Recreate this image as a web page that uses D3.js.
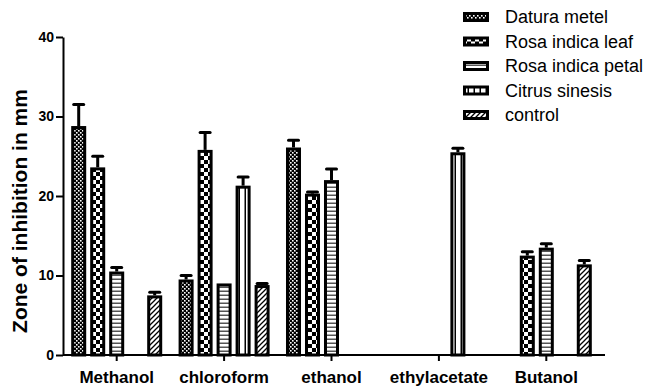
<!DOCTYPE html>
<html>
<head>
<meta charset="utf-8">
<script src="https://cdn.jsdelivr.net/npm/d3@7"></script>
<style>
    body { margin: 0; background: #fff; }
    svg { display: block; font-family: Arial, "Liberation Sans", sans-serif; }
</style>
</head>
<body>
<div id="chart"></div>
<script>

// chart values
var categories = ['Methanol', 'chloroform', 'ethanol', 'ethylacetate', 'Butanol'];
var series = ['Datura metel', 'Rosa indica leaf', 'Rosa indica petal', 'Citrus sinesis', 'control'];

// one row per category, one value per series (null = no bar)
var means = [
    [28.8, 23.6, 10.5, null, 7.5],
    [9.5, 25.8, 9.0, 21.3, 8.8],
    [26.1, 20.3, 22.0, null, null],
    [null, null, null, 25.5, null],
    [null, 12.5, 13.5, null, 11.4]
];
var errors = [
    [2.7, 1.4, 0.5, null, 0.4],
    [0.5, 2.2, 0, 1.1, 0.2],
    [0.9, 0.2, 1.4, null, null],
    [null, null, null, 0.5, null],
    [null, 0.5, 0.5, null, 0.5]
];
var yTicks = [0, 10, 20, 30, 40];

var width = 649;
var height = 387;
var margin = { left: 63, top: 37, right: 49, bottom: 32 };
var axisEnd = 605;

var svg = d3.select('#chart')
    .append('svg')
    .attr('width', width)
    .attr('height', height);

var defs = svg.append('defs');

function pattern(id, w, h) {
    return defs.append('pattern')
        .attr('id', id)
        .attr('patternUnits', 'userSpaceOnUse')
        .attr('width', w)
        .attr('height', h || w);
}

// Datura metel: fine dotted checker
var p0 = pattern('pat0', 4);
p0.append('rect').attr('width', 4).attr('height', 4).attr('fill', '#000');
p0.append('rect').attr('width', 1.6).attr('height', 1.6).attr('fill', '#fff');
p0.append('rect').attr('x', 2).attr('y', 2).attr('width', 1.6).attr('height', 1.6).attr('fill', '#fff');

// Rosa indica leaf: coarse checker
var p1 = pattern('pat1', 8);
p1.append('rect').attr('width', 8).attr('height', 8).attr('fill', '#000');
p1.append('rect').attr('width', 4).attr('height', 4).attr('fill', '#fff');
p1.append('rect').attr('x', 4).attr('y', 4).attr('width', 4).attr('height', 4).attr('fill', '#fff');

// Rosa indica petal: horizontal lines
var p2 = pattern('pat2', 4);
p2.append('rect').attr('width', 4).attr('height', 4).attr('fill', '#fff');
p2.append('rect').attr('y', 2.5).attr('width', 4).attr('height', 1.5).attr('fill', '#555');

// Citrus sinesis: thin vertical lines
var p3 = pattern('pat3', 6);
p3.append('rect').attr('width', 6).attr('height', 6).attr('fill', '#fff');
p3.append('rect').attr('x', 4.5).attr('width', 1.5).attr('height', 6).attr('fill', '#000');

// control: diagonal hatch
var p4 = pattern('pat4', 5);
p4.append('rect').attr('width', 5).attr('height', 5).attr('fill', '#fff');
p4.append('path').attr('d', 'M-1,6 L6,-1 M-1,1 L1,-1 M4,6 L6,4')
    .attr('stroke', '#000').attr('stroke-width', 1.3);

var x0 = d3.scaleBand()
    .domain(categories)
    .range([margin.left, width - margin.right]);

var x1 = d3.scaleBand()
    .domain(series)
    .range([-47.5, 47.5])
    .paddingInner(0.21)
    .paddingOuter(0.105);

var y = d3.scaleLinear()
    .domain([0, 40])
    .range([height - margin.bottom, margin.top]);

var data = [];
categories.forEach(function(c, i) {
    series.forEach(function(s, j) {
        if (means[i][j] != null) {
            data.push({ cat: c, key: s, index: j, value: means[i][j], err: errors[i][j] });
        }
    });
});

var bars = svg.append('g').attr('class', 'bars');

bars.selectAll('rect')
    .data(data)
    .enter()
    .append('rect')
    .attr('x', d => x0(d.cat) + x0.bandwidth() / 2 + x1(d.key) + 1.5)
    .attr('y', d => y(d.value) + 1.5)
    .attr('width', x1.bandwidth() - 3)
    .attr('height', d => y(0) - y(d.value) - 1.5)
    .attr('fill', d => 'url(#pat' + d.index + ')')
    .attr('stroke', '#000')
    .attr('stroke-width', 3);

var errs = bars.selectAll('g.err')
    .data(data.filter(d => d.err > 0))
    .enter()
    .append('g')
    .attr('class', 'err')
    .attr('transform', d => 'translate(' + (x0(d.cat) + x0.bandwidth() / 2 + x1(d.key) + x1.bandwidth() / 2) + ',0)');

errs.append('line')
    .attr('x1', 0).attr('x2', 0)
    .attr('y1', d => y(d.value))
    .attr('y2', d => y(d.value + d.err))
    .attr('stroke', '#000')
    .attr('stroke-width', 3);

errs.append('line')
    .attr('x1', -5).attr('x2', 5)
    .attr('y1', d => y(d.value + d.err))
    .attr('y2', d => y(d.value + d.err))
    .attr('stroke', '#000')
    .attr('stroke-width', 3)
    .attr('stroke-linecap', 'round');

// axes
var yAxis = svg.append('g')
    .attr('transform', 'translate(' + margin.left + ',0)')
    .call(d3.axisLeft(y).tickValues(yTicks).tickSize(7).tickPadding(2).tickSizeOuter(0));

var xAxis = svg.append('g')
    .attr('transform', 'translate(0,' + y(0) + ')')
    .call(d3.axisBottom(x0).tickSize(6).tickPadding(10).tickSizeOuter(0));

// the baseline runs a little past the last group
xAxis.select('.domain').attr('d', 'M' + margin.left + ',0H' + axisEnd);

[yAxis, xAxis].forEach(function(a) {
    a.selectAll('path, line').attr('stroke', '#000').attr('stroke-width', 2);
    a.selectAll('text').attr('fill', '#000').style('font-weight', 'bold');
});
yAxis.selectAll('text').style('font-size', '14px');
xAxis.selectAll('text').style('font-size', '17px');

svg.append('text')
    .attr('transform', 'translate(27,' + 211 + ') rotate(-90)')
    .attr('text-anchor', 'middle')
    .style('font-size', '21px')
    .style('font-weight', 'bold')
    .text('Zone of inhibition in mm');

// legend
var legend = svg.append('g')
    .selectAll('g')
    .data(series)
    .enter()
    .append('g')
    .attr('transform', (d, i) => 'translate(463,' + (17 + i * 24.5) + ')');

legend.append('rect')
    .attr('x', 1.5).attr('y', -3.5)
    .attr('width', 23).attr('height', 7)
    .attr('fill', (d, i) => 'url(#pat' + i + ')')
    .attr('stroke', '#000')
    .attr('stroke-width', 3);

legend.append('text')
    .attr('x', 42)
    .attr('dy', '0.35em')
    .style('font-size', '18px')
    .text(d => d);

</script>
</body>
</html>
